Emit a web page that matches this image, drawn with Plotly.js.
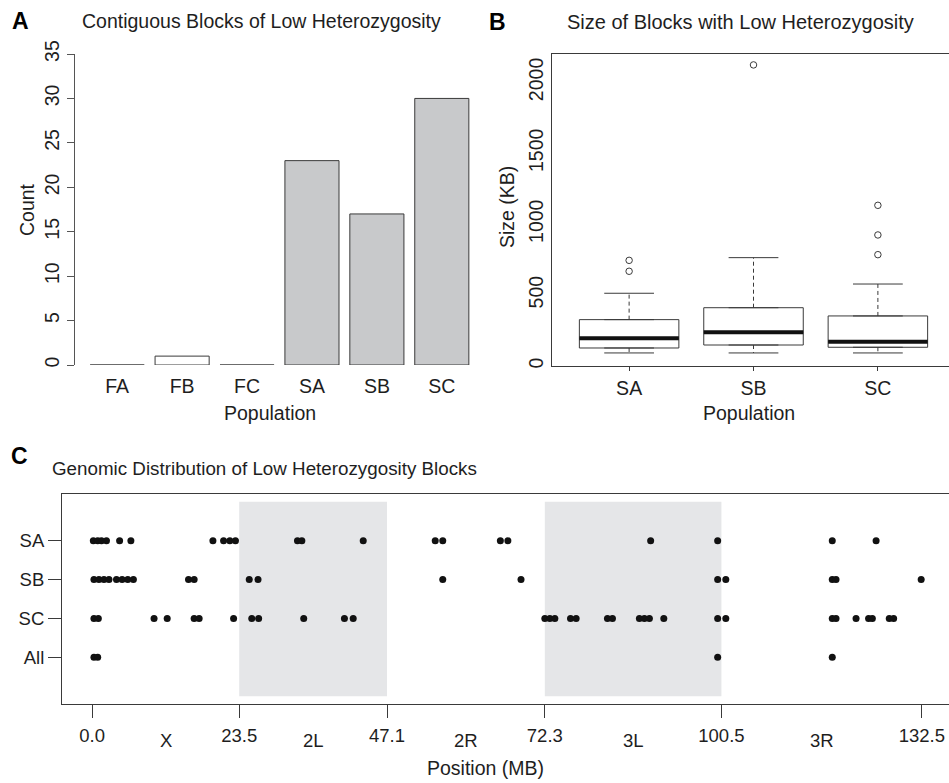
<!DOCTYPE html>
<html>
<head>
<meta charset="utf-8">
<script src="https://cdn.plot.ly/plotly-3.0.1.min.js"></script>
<style>
  html, body { margin: 0; padding: 0; overflow: hidden; background: #fff; }
  #chart { width: 960px; height: 783px; }
</style>
</head>
<body>
<div id="chart"></div>
<script>
// ---------------- DATA ----------------
// Panel A: counts of contiguous low-heterozygosity blocks
const popCategories = ["FA", "FB", "FC", "SA", "SB", "SC"];
const blockCounts   = [0, 1, 0, 23, 17, 30];

// Panel B: block size (KB) box statistics
const sizeGroups    = ["SA", "SB", "SC"];
const sizeLowerWhisk = [92, 92, 92];
const sizeQ1        = [127, 148, 132];
const sizeMedian    = [195, 238, 171];
const sizeQ3        = [327, 411, 353];
const sizeUpperWhisk = [513, 764, 578];
const outliersSA    = [668, 745];
const outliersSB    = [2123];
const outliersSC    = [785, 924, 1133];

// Panel C: genomic positions (MB) of blocks
const rowLabels = ["SA", "SB", "SC", "All"];
const posSA  = [0.2, 0.9, 1.5, 2.3, 4.4, 6.2, 19.3, 21.0, 22.0, 22.9, 32.8, 33.5, 43.3,
                54.8, 56.0, 65.2, 66.4, 89.2, 99.9, 118.2, 125.2];
const posSB  = [0.3, 1.1, 1.9, 2.7, 3.9, 4.8, 5.7, 6.6, 15.4, 16.3, 25.1, 26.5,
                56.0, 68.5, 99.9, 101.2, 118.2, 118.8, 132.4];
const posSC  = [0.3, 1.0, 9.9, 12.0, 16.3, 17.1, 22.6, 25.5, 26.6, 33.8, 40.3, 41.7,
                72.3, 73.1, 73.9, 76.4, 77.3, 82.3, 83.1, 87.4, 88.2, 89.0, 91.3,
                99.9, 101.2, 118.2, 118.8, 122.0, 124.0, 124.6, 127.3, 128.0];
const posAll = [0.3, 0.9, 99.9, 118.2];

const chromBoundaries = [0.0, 23.5, 47.1, 72.3, 100.5, 132.5];
const boundaryLabels  = ["0.0", "23.5", "47.1", "72.3", "100.5", "132.5"];
const chromArms       = ["X", "2L", "2R", "3L", "3R"];
const shadedArms      = ["2L", "3L"];

// ---------------- STYLE ----------------
const W = 960, H = 783;
const px = x => x / W;
const py = y => 1 - y / H;
const FONT = "Liberation Sans, Arial, Helvetica, sans-serif";
const FS = 19.5;
const TXT = "#1e1e1e";
const LINE = "#3a3a3a";
const GRAYFILL = "#c8c9cb";
const SHADE = "#e5e6e8";

const traces = [];

// Panel A bars
traces.push({
  type: "bar",
  x: popCategories.map((c, i) => i),
  y: blockCounts,
  width: 1 / 1.2,
  marker: {
    color: popCategories.map(c => c[0] === "S" ? GRAYFILL : "#ffffff"),
    line: { color: LINE, width: 1 }
  },
  cliponaxis: false,
  xaxis: "x", yaxis: "y",
  hoverinfo: "skip"
});

// Panel B boxes
traces.push({
  type: "box",
  x: sizeGroups.map((g, i) => i),
  q1: sizeQ1, median: sizeMedian, q3: sizeQ3,
  lowerfence: sizeQ1, upperfence: sizeQ3,
  width: 0.8,
  fillcolor: "#ffffff",
  line: { color: LINE, width: 1 },
  boxpoints: false,
  xaxis: "x2", yaxis: "y2",
  hoverinfo: "skip"
});
// whiskers (dashed)
const wx = [], wy = [];
sizeGroups.forEach((g, i) => {
  wx.push(i, i, null, i, i, null);
  wy.push(sizeQ3[i], sizeUpperWhisk[i], null, sizeQ1[i], sizeLowerWhisk[i], null);
});
traces.push({
  type: "scatter", mode: "lines", x: wx, y: wy,
  line: { color: LINE, width: 1, dash: "4px,3px" },
  xaxis: "x2", yaxis: "y2", hoverinfo: "skip", connectgaps: false
});
// staples
const sx = [], sy = [];
sizeGroups.forEach((g, i) => {
  sx.push(i - 0.2, i + 0.2, null, i - 0.2, i + 0.2, null);
  sy.push(sizeUpperWhisk[i], sizeUpperWhisk[i], null, sizeLowerWhisk[i], sizeLowerWhisk[i], null);
});
traces.push({
  type: "scatter", mode: "lines", x: sx, y: sy,
  line: { color: LINE, width: 1 },
  xaxis: "x2", yaxis: "y2", hoverinfo: "skip"
});
// medians (thick)
const mx = [], my = [];
sizeGroups.forEach((g, i) => {
  mx.push(i - 0.4, i + 0.4, null);
  my.push(sizeMedian[i], sizeMedian[i], null);
});
traces.push({
  type: "scatter", mode: "lines", x: mx, y: my,
  line: { color: "#111", width: 4 },
  xaxis: "x2", yaxis: "y2", hoverinfo: "skip"
});
// outliers
const outAll = [outliersSA, outliersSB, outliersSC];
const ox = [], oy = [];
outAll.forEach((arr, i) => arr.forEach(v => { ox.push(i); oy.push(v); }));
traces.push({
  type: "scatter", mode: "markers", x: ox, y: oy,
  marker: { symbol: "circle-open", size: 6.5, color: LINE, line: { width: 1, color: LINE } },
  xaxis: "x2", yaxis: "y2", hoverinfo: "skip"
});

// Panel C dots
const rowPositions = [posSA, posSB, posSC, posAll];
rowPositions.forEach((arr, r) => {
  const level = rowLabels.length - r; // SA=4 ... All=1
  traces.push({
    type: "scatter", mode: "markers",
    x: arr, y: arr.map(() => level),
    marker: { color: "#111", size: 7, line: { width: 0 } },
    xaxis: "x3", yaxis: "y3", hoverinfo: "skip", cliponaxis: false
  });
});

// shaded chromosome arms
const shapes = [];
shadedArms.forEach(arm => {
  const k = chromArms.indexOf(arm);
  shapes.push({
    type: "rect", xref: "x3", yref: "y3", layer: "below",
    x0: chromBoundaries[k], x1: chromBoundaries[k + 1], y0: 0, y1: 5,
    fillcolor: SHADE, line: { width: 0 }
  });
});

// ---------------- LAYOUT ----------------
const annotations = [];
function ann(text, x, y, opts) {
  annotations.push(Object.assign({
    text: text, xref: "paper", yref: "paper", x: px(x), y: py(y),
    xanchor: "center", yanchor: "middle", showarrow: false,
    font: { family: FONT, size: FS, color: TXT }
  }, opts || {}));
}
ann("<b>A</b>", 20, 21, { font: { family: FONT, size: 23, color: "#000" } });
ann("Contiguous Blocks of Low Heterozygosity", 261, 21);
ann("<b>B</b>", 497, 22, { font: { family: FONT, size: 23, color: "#000" } });
ann("Size of Blocks with Low Heterozygosity", 740, 22, { font: { family: FONT, size: 20, color: TXT } });
ann("<b>C</b>", 19, 456, { font: { family: FONT, size: 23, color: "#000" } });
ann("Genomic Distribution of Low Heterozygosity Blocks", 50, 468, { xanchor: "left", font: { family: FONT, size: 18.8, color: TXT } });
ann("Count", 27, 210, { textangle: -90 });
ann("Population", 270, 413);
ann("Size (KB)", 507, 207, { textangle: -90 });
ann("Population", 749, 413);
ann("Position (MB)", 485, 768);
chromArms.forEach((arm, k) => {
  annotations.push({
    text: arm, xref: "x3", yref: "paper",
    x: (chromBoundaries[k] + chromBoundaries[k + 1]) / 2, y: py(740),
    xanchor: "center", yanchor: "middle", showarrow: false,
    font: { family: FONT, size: 18.5, color: TXT }
  });
});

const baseAxis = { showgrid: false, zeroline: false, fixedrange: true };

const layout = {
  width: W, height: H,
  margin: { l: 0, r: 0, t: 0, b: 0 },
  paper_bgcolor: "#fff", plot_bgcolor: "rgba(0,0,0,0)",
  showlegend: false,
  font: { family: FONT, size: FS, color: TXT },
  xaxis: Object.assign({}, baseAxis, {
    domain: [px(75), px(484)], anchor: "y",
    range: [-0.65, 5.65],
    tickvals: popCategories.map((c, i) => i), ticktext: popCategories,
    showline: false, ticks: "", ticklabelstandoff: 7,
    tickfont: { family: FONT, size: FS, color: TXT }
  }),
  yaxis: Object.assign({}, baseAxis, {
    domain: [py(365), py(54)], anchor: "x",
    range: [0, 35], tickvals: [0, 5, 10, 15, 20, 25, 30, 35],
    showline: true, linecolor: "#555", linewidth: 1,
    ticks: "outside", ticklen: 7, tickcolor: "#555", tickangle: -90,
    tickfont: { family: FONT, size: FS, color: TXT }
  }),
  xaxis2: Object.assign({}, baseAxis, {
    domain: [px(552), px(955)], anchor: "y2",
    range: [-0.62, 2.62],
    tickvals: sizeGroups.map((g, i) => i), ticktext: sizeGroups,
    showline: true, mirror: true, linecolor: LINE, linewidth: 1,
    ticks: "outside", ticklen: 4, tickcolor: LINE, ticklabelstandoff: 1,
    tickfont: { family: FONT, size: FS, color: TXT }
  }),
  yaxis2: Object.assign({}, baseAxis, {
    domain: [py(366), py(54)], anchor: "x2",
    range: [0, 2200], tickvals: [0, 500, 1000, 1500, 2000],
    showline: true, mirror: true, linecolor: LINE, linewidth: 1,
    ticks: "", tickangle: -90,
    tickfont: { family: FONT, size: FS, color: TXT }
  }),
  xaxis3: Object.assign({}, baseAxis, {
    domain: [px(62), px(955)], anchor: "y3",
    range: [-4.8, 137.8],
    tickvals: chromBoundaries, ticktext: boundaryLabels,
    showline: true, mirror: true, linecolor: LINE, linewidth: 1,
    ticks: "outside", ticklen: 13, tickcolor: LINE, ticklabelstandoff: 2,
    tickfont: { family: FONT, size: 18.5, color: TXT }
  }),
  yaxis3: Object.assign({}, baseAxis, {
    domain: [py(704), py(494)], anchor: "x3",
    range: [-0.2, 5.2],
    tickvals: rowLabels.map((r, i) => rowLabels.length - i), ticktext: rowLabels,
    showline: true, mirror: true, linecolor: LINE, linewidth: 1,
    ticks: "outside", ticklen: 13, tickcolor: LINE,
    tickfont: { family: FONT, size: 18.5, color: TXT }
  }),
  shapes: shapes,
  annotations: annotations
};

Plotly.newPlot("chart", traces, layout, { staticPlot: true, displayModeBar: false });
</script>
</body>
</html>
